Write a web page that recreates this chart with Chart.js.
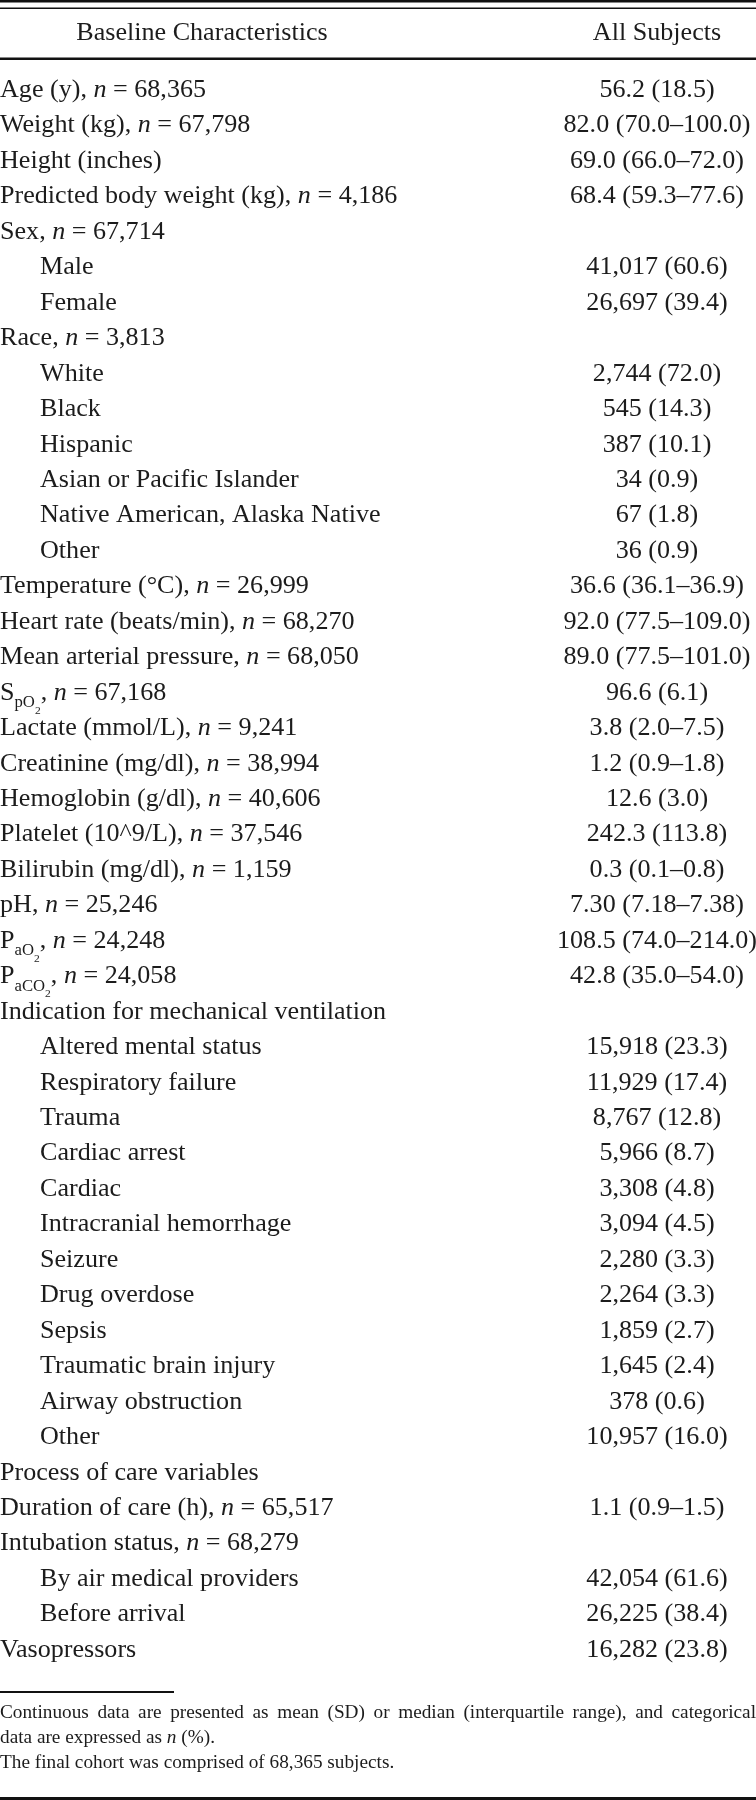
<!DOCTYPE html>
<html>
<head>
<meta charset="utf-8">
<script src="https://cdn.jsdelivr.net/npm/chart.js@4/dist/chart.umd.min.js"></script>
<style>
  html, body { margin: 0; padding: 0; background: #ffffff; }
  #wrap { width: 756px; height: 1800px; position: relative; }
  canvas { display: block; }
</style>
</head>
<body>
<div id="wrap"><canvas id="tbl" width="756" height="1800"></canvas></div>
<script>
// ---- Data (markup: *italic*, _{subscript}) ----
const headers = ["Baseline Characteristics", "All Subjects"];

const rowLabels = [
  "Age (y), *n* = 68,365",
  "Weight (kg), *n* = 67,798",
  "Height (inches)",
  "Predicted body weight (kg), *n* = 4,186",
  "Sex, *n* = 67,714",
  "Male",
  "Female",
  "Race, *n* = 3,813",
  "White",
  "Black",
  "Hispanic",
  "Asian or Pacific Islander",
  "Native American, Alaska Native",
  "Other",
  "Temperature (°C), *n* = 26,999",
  "Heart rate (beats/min), *n* = 68,270",
  "Mean arterial pressure, *n* = 68,050",
  "S_{pO_{2}}, *n* = 67,168",
  "Lactate (mmol/L), *n* = 9,241",
  "Creatinine (mg/dl), *n* = 38,994",
  "Hemoglobin (g/dl), *n* = 40,606",
  "Platelet (10^9/L), *n* = 37,546",
  "Bilirubin (mg/dl), *n* = 1,159",
  "pH, *n* = 25,246",
  "P_{aO_{2}}, *n* = 24,248",
  "P_{aCO_{2}}, *n* = 24,058",
  "Indication for mechanical ventilation",
  "Altered mental status",
  "Respiratory failure",
  "Trauma",
  "Cardiac arrest",
  "Cardiac",
  "Intracranial hemorrhage",
  "Seizure",
  "Drug overdose",
  "Sepsis",
  "Traumatic brain injury",
  "Airway obstruction",
  "Other",
  "Process of care variables",
  "Duration of care (h), *n* = 65,517",
  "Intubation status, *n* = 68,279",
  "By air medical providers",
  "Before arrival",
  "Vasopressors"
];

// hierarchy level of each row (0 = group/variable, 1 = sub-category)
const rowLevels = [
  0,0,0,0,0,1,1,0,1,1,1,1,1,1,
  0,0,0,0,0,0,0,0,0,0,0,0,
  0,1,1,1,1,1,1,1,1,1,1,1,1,
  0,0,0,1,1,0
];

const allSubjects = [
  "56.2 (18.5)",
  "82.0 (70.0–100.0)",
  "69.0 (66.0–72.0)",
  "68.4 (59.3–77.6)",
  "",
  "41,017 (60.6)",
  "26,697 (39.4)",
  "",
  "2,744 (72.0)",
  "545 (14.3)",
  "387 (10.1)",
  "34 (0.9)",
  "67 (1.8)",
  "36 (0.9)",
  "36.6 (36.1–36.9)",
  "92.0 (77.5–109.0)",
  "89.0 (77.5–101.0)",
  "96.6 (6.1)",
  "3.8 (2.0–7.5)",
  "1.2 (0.9–1.8)",
  "12.6 (3.0)",
  "242.3 (113.8)",
  "0.3 (0.1–0.8)",
  "7.30 (7.18–7.38)",
  "108.5 (74.0–214.0)",
  "42.8 (35.0–54.0)",
  "",
  "15,918 (23.3)",
  "11,929 (17.4)",
  "8,767 (12.8)",
  "5,966 (8.7)",
  "3,308 (4.8)",
  "3,094 (4.5)",
  "2,280 (3.3)",
  "2,264 (3.3)",
  "1,859 (2.7)",
  "1,645 (2.4)",
  "378 (0.6)",
  "10,957 (16.0)",
  "",
  "1.1 (0.9–1.5)",
  "",
  "42,054 (61.6)",
  "26,225 (38.4)",
  "16,282 (23.8)"
];

const footnotes = [
  "Continuous data are presented as mean (SD) or median (interquartile range), and categorical",
  "data are expressed as *n* (%).",
  "The final cohort was comprised of 68,365 subjects."
];

// ---- Rendering helpers ----
const FAMILY = '"Liberation Serif", "Times New Roman", serif';
const INK = '#1c1c1c';

function parseRich(markup) {
  const segs = [];
  let italic = false, level = 0, buf = '';
  const flush = () => { if (buf) { segs.push({ text: buf, italic, level }); buf = ''; } };
  for (let i = 0; i < markup.length; i++) {
    const c = markup[i];
    if (c === '*') { flush(); italic = !italic; }
    else if (c === '_' && markup[i + 1] === '{') { flush(); level++; i++; }
    else if (c === '}' && level > 0) { flush(); level--; }
    else buf += c;
  }
  flush();
  return segs;
}

const SUB_SIZES = [1, 0.64, 0.44];
function segFont(seg, base) {
  const size = base * SUB_SIZES[Math.min(seg.level, 2)];
  return (seg.italic ? 'italic ' : '') + size.toFixed(2) + 'px ' + FAMILY;
}
function segOffset(level, base) {
  if (level === 0) return 0;
  if (level === 1) return base * 0.3;
  return base * 0.3 + base * 0.28;
}

function richWidth(ctx, markup, base, sx) {
  let w = 0;
  for (const s of parseRich(markup)) {
    ctx.font = segFont(s, base);
    w += ctx.measureText(s.text).width * sx;
  }
  return w;
}

function drawRich(ctx, markup, x, y, base, sx, align) {
  const segs = parseRich(markup);
  let cx = x;
  if (align === 'center') cx = x - richWidth(ctx, markup, base, sx) / 2;
  ctx.textBaseline = 'alphabetic';
  ctx.textAlign = 'left';
  for (const s of segs) {
    ctx.font = segFont(s, base);
    const w = ctx.measureText(s.text).width;
    ctx.save();
    ctx.translate(cx, y + segOffset(s.level, base));
    ctx.scale(sx, 1);
    ctx.fillText(s.text, 0, 0);
    ctx.restore();
    cx += w * sx;
  }
}

function drawJustified(ctx, markup, x0, x1, y, base, sx) {
  const words = markup.split(' ');
  const widths = words.map(w => richWidth(ctx, w, base, sx));
  const total = widths.reduce((a, b) => a + b, 0);
  const gap = (x1 - x0 - total) / (words.length - 1);
  let cx = x0;
  words.forEach((w, i) => {
    drawRich(ctx, w, cx, y, base, sx, 'left');
    cx += widths[i] + gap;
  });
}

function hline(ctx, x0, x1, y, w) {
  ctx.save();
  ctx.strokeStyle = '#111';
  ctx.lineWidth = w;
  ctx.beginPath();
  ctx.moveTo(x0, y);
  ctx.lineTo(x1, y);
  ctx.stroke();
  ctx.restore();
}

const BODY = 24.5, SX = 1.065, FOOT = 18, FSX = 1.07;
const INDENT = 40, LABEL_COL_CENTER = 202, VALUE_COL_CENTER = 657;

const tablePlugin = {
  id: 'tablePlugin',
  afterDraw(chart) {
    const ctx = chart.ctx;
    const yScale = chart.scales.y;
    const W = chart.width;
    ctx.save();
    ctx.fillStyle = INK;

    // top rules and header
    hline(ctx, 0, W, 1.3, 2.6);
    hline(ctx, 0, W, 8.2, 1.4);
    drawRich(ctx, headers[0], LABEL_COL_CENTER, 40, BODY, SX, 'center');
    drawRich(ctx, headers[1], VALUE_COL_CENTER, 40, BODY, SX, 'center');
    hline(ctx, 0, W, 58.7, 2.6);

    // body rows, positioned by the category scale
    rowLabels.forEach((lab, i) => {
      const py = yScale.getPixelForValue(i);
      const base = py + 8;
      drawRich(ctx, lab, rowLevels[i] * INDENT, base, BODY, SX, 'left');
      if (allSubjects[i]) drawRich(ctx, allSubjects[i], VALUE_COL_CENTER, base, BODY, SX, 'center');
    });

    // footnotes
    hline(ctx, 0, 174, 1692, 2);
    drawJustified(ctx, footnotes[0], 0, 756, 1718, FOOT, FSX);
    drawRich(ctx, footnotes[1], 0, 1743, FOOT, FSX, 'left');
    drawRich(ctx, footnotes[2], 0, 1768, FOOT, FSX, 'left');
    hline(ctx, 0, W, 1798.5, 3);
    ctx.restore();
  }
};

const rowIndex = rowLabels.map((_, i) => i);

new Chart(document.getElementById('tbl'), {
  type: 'bar',
  data: {
    labels: rowLabels,
    datasets: [{ label: headers[1], data: rowIndex.map(() => null), backgroundColor: 'rgba(0,0,0,0)' }]
  },
  options: {
    responsive: false,
    animation: false,
    indexAxis: 'y',
    events: [],
    layout: { padding: { top: 71.3, bottom: 133.5, left: 0, right: 0 } },
    plugins: { legend: { display: false }, tooltip: { enabled: false }, title: { display: false } },
    scales: {
      y: { type: 'category', display: false, offset: true, grid: { display: false } },
      x: { type: 'linear', display: false, min: 0, max: 1 }
    }
  },
  plugins: [tablePlugin]
});
</script>
</body>
</html>
